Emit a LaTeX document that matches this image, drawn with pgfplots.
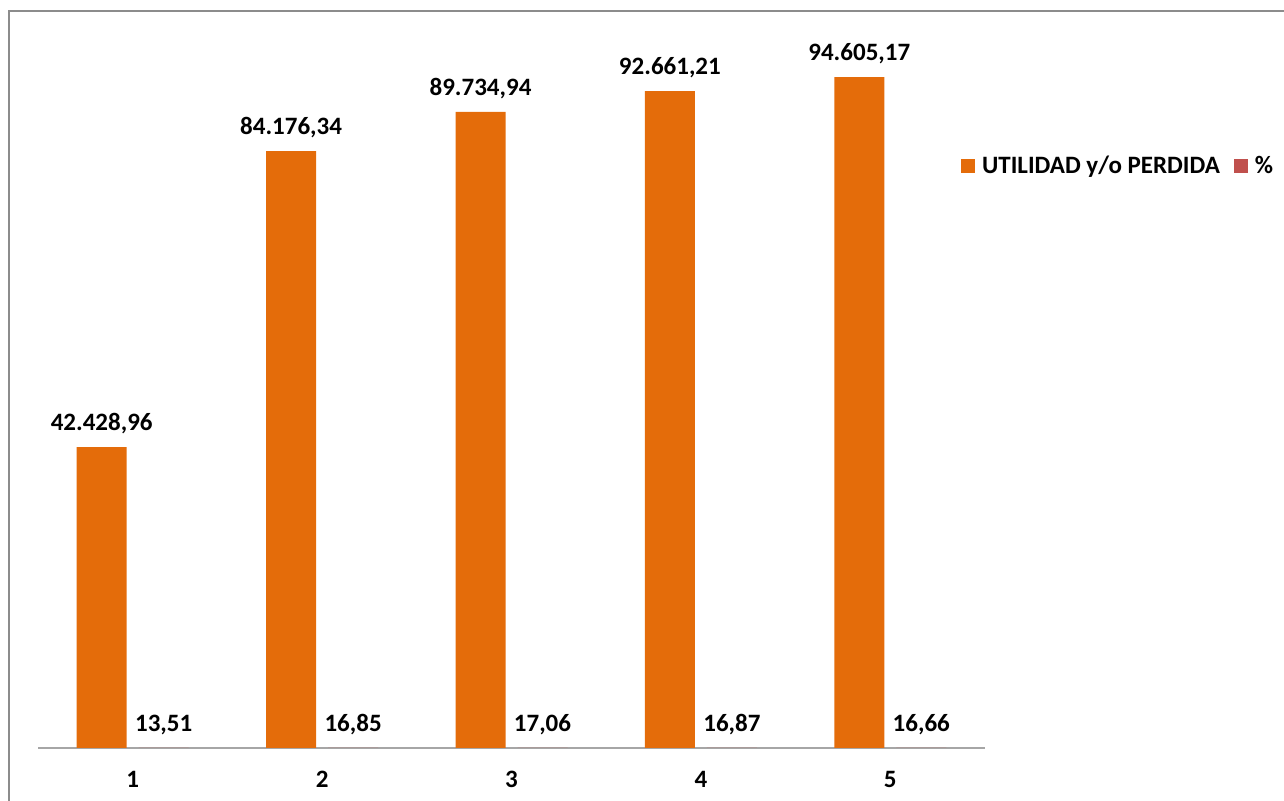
\documentclass[border=0pt]{standalone}
\usepackage{pgfplots}
\pgfplotsset{compat=1.18}
\usepackage{fontspec}
\setmainfont{Carlito}
\definecolor{barorange}{HTML}{E46C0A}
\definecolor{barred}{HTML}{C0504D}
\definecolor{bordergray}{HTML}{8C8C8C}
\definecolor{axisgray}{HTML}{A6A6A6}
\newcommand{\lbl}{\fontsize{12.5}{15}\selectfont\bfseries}
\begin{document}
\begin{tikzpicture}
\path[use as bounding box] (0pt,0pt) rectangle (642pt,400.5pt);
\draw[bordergray, line width=1pt] (4.5pt,0pt) -- (4.5pt,395pt) -- (642pt,395pt);
\begin{axis}[
  at={(19pt,26.5pt)}, anchor=south west,
  scale only axis, width=473.5pt, height=354.5pt,
  ymin=0, ymax=100000, xmin=0.5, xmax=5.5,
  ybar=6pt, bar width=25pt,
  axis y line=none, axis x line*=bottom,
  x axis line style={axisgray, line width=0.6pt},
  xtick={1,2,3,4,5}, xticklabels={1,2,3,4,5}, major tick length=0pt,
  xticklabel style={font=\lbl, yshift=-8pt},
  ytick=\empty,
  clip=false,
  nodes near coords,
  nodes near coords style={font=\lbl, text=black, yshift=3pt,
    /pgf/number format/.cd, fixed, fixed zerofill, precision=2, use comma, 1000 sep={.}, assume math mode=true},
  legend style={draw=none, at={(0.968,0.821)}, anchor=west, legend columns=2,
    font=\lbl, /tikz/every even column/.append style={column sep=5pt},
    /tikz/every odd column/.append style={column sep=1.5pt}},
  legend image code/.code={\path[#1,draw=none] (0pt,-3.5pt) rectangle (7pt,3.5pt);},
]
\addplot[fill=barorange, draw=none] coordinates {(1,42428.96) (2,84176.34) (3,89734.94) (4,92661.21) (5,94605.17)};
\addplot[fill=barred, draw=none] coordinates {(1,13.51) (2,16.85) (3,17.06) (4,16.87) (5,16.66)};
\legend{UTILIDAD y/o PERDIDA, \%}
\end{axis}
\end{tikzpicture}
\end{document}
